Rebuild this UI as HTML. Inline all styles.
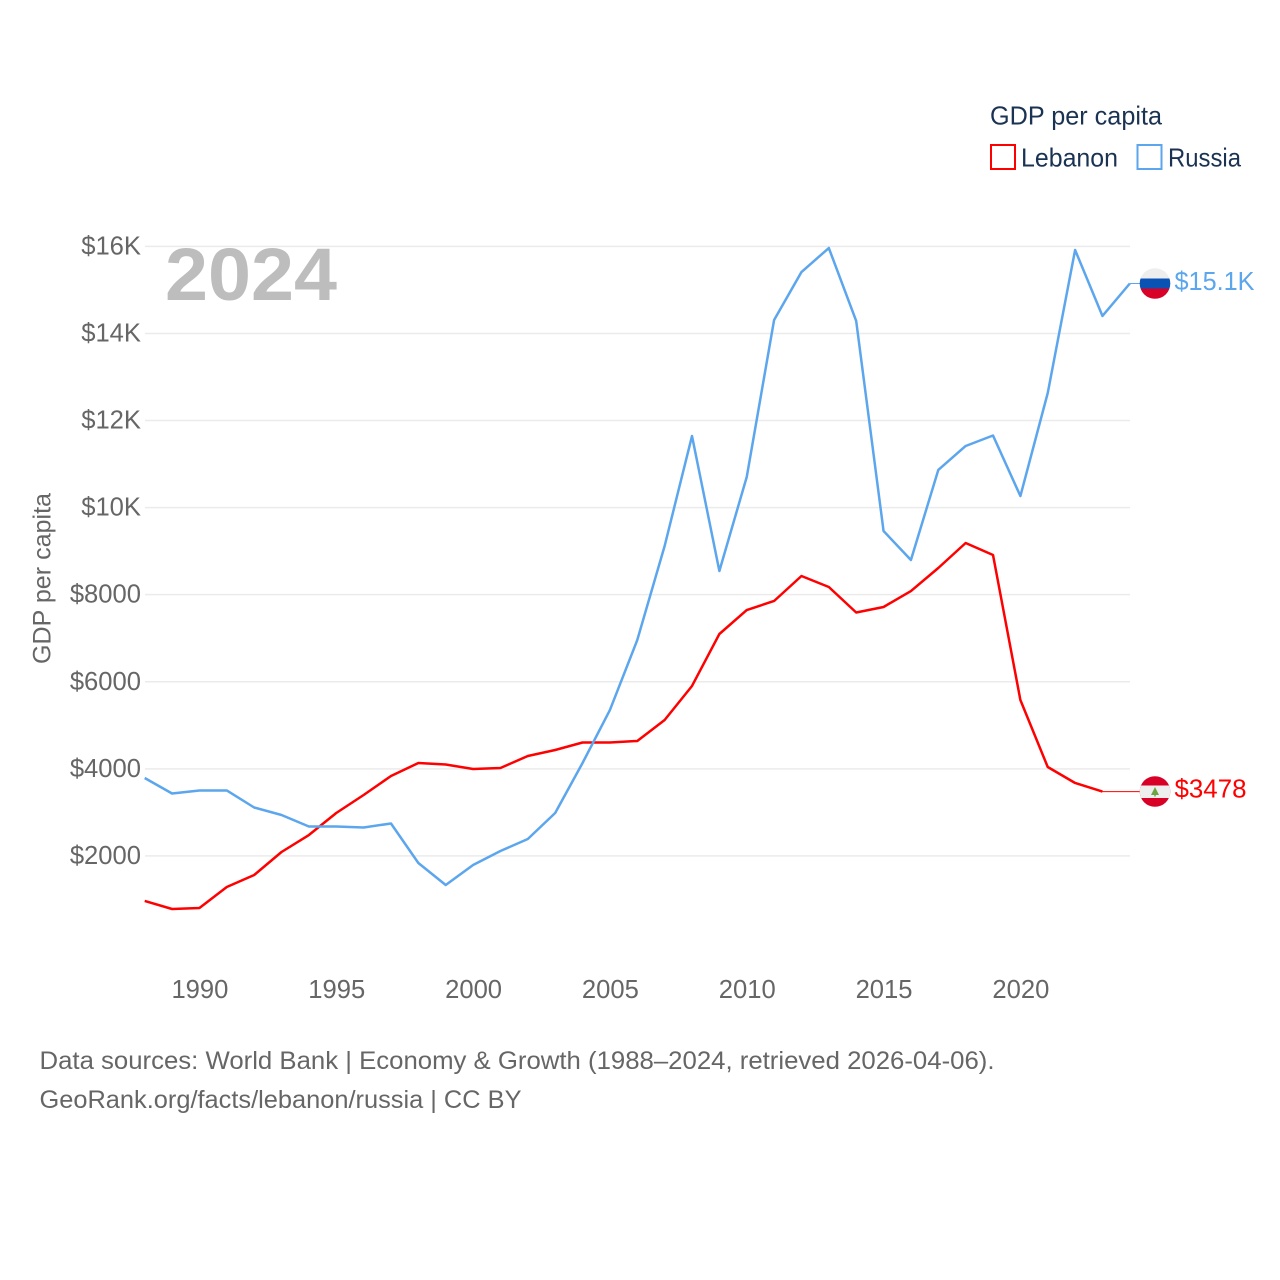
<!DOCTYPE html>
<html>
<head>
<meta charset="utf-8">
<title>GDP per capita: Lebanon and Russia</title>
<style>
html,body{margin:0;padding:0;background:#fff;}
svg{display:block;font-family:"Liberation Sans",sans-serif;}
</style>
</head>
<body>
<svg id="chart" width="1280" height="1280" viewBox="0 0 1280 1280" xmlns="http://www.w3.org/2000/svg">
  <rect width="1280" height="1280" fill="#ffffff"/>
  <g id="grid"></g>
  <g id="yticks"></g>
  <g id="xticks"></g>
  <text x="165" y="300" font-size="74" font-weight="bold" fill="#bdbdbd" textLength="172" lengthAdjust="spacingAndGlyphs">2024</text>
  <g id="series"></g>
  <text transform="translate(50.5,578.5) rotate(-90)" text-anchor="middle" font-size="25" fill="#666666" textLength="171" lengthAdjust="spacingAndGlyphs">GDP per capita</text>

  <g>
    <text x="990" y="124.5" font-size="25.6" fill="#1b3353" textLength="172" lengthAdjust="spacingAndGlyphs">GDP per capita</text>
    <rect x="991" y="145" width="24" height="24" fill="#fff" stroke="#ff0000" stroke-width="2"/>
    <text x="1021" y="166.5" font-size="25.6" fill="#1b3353" textLength="97" lengthAdjust="spacingAndGlyphs">Lebanon</text>
    <rect x="1137.5" y="145" width="24" height="24" fill="#fff" stroke="#5ca6ee" stroke-width="2"/>
    <text x="1168" y="166.5" font-size="25.6" fill="#1b3353" textLength="73" lengthAdjust="spacingAndGlyphs">Russia</text>
  </g>

  <defs>
    <clipPath id="clip-ru"><circle cx="1155" cy="283.5" r="15.3"/></clipPath>
    <clipPath id="clip-lb"><circle cx="1155" cy="791.5" r="15.3"/></clipPath>
  </defs>
  <g clip-path="url(#clip-ru)">
    <rect x="1139" y="268" width="32" height="10.5" fill="#eeeeee"/>
    <rect x="1139" y="278.5" width="32" height="10" fill="#0a52b4"/>
    <rect x="1139" y="288.5" width="32" height="11" fill="#d80027"/>
  </g>
  <g clip-path="url(#clip-lb)">
    <rect x="1139" y="776" width="32" height="32" fill="#d80027"/>
    <rect x="1139" y="785.5" width="32" height="12.5" fill="#eeeeee"/>
    <polygon points="1155,787 1159,795 1151,795" fill="#6da544"/>
    <rect x="1154.3" y="794" width="1.4" height="2.5" fill="#6da544"/>
  </g>
  <text x="1174.5" y="290" font-size="25.6" fill="#5ca6ee" textLength="80" lengthAdjust="spacingAndGlyphs">$15.1K</text>
  <text x="1174.5" y="797.5" font-size="25.6" fill="#ff0000" textLength="72" lengthAdjust="spacingAndGlyphs">$3478</text>

  <text x="39.5" y="1069" font-size="25" fill="#666666" textLength="955" lengthAdjust="spacingAndGlyphs">Data sources: World Bank | Economy &amp; Growth (1988–2024, retrieved 2026-04-06).</text>
  <text x="39.5" y="1108" font-size="25" fill="#666666" textLength="482" lengthAdjust="spacingAndGlyphs">GeoRank.org/facts/lebanon/russia | CC BY</text>
</svg>
<script>
var startYear = 1988;
var lebanonValues = [965,781,804,1286,1562,2090,2480,2986,3399,3836,4134,4100,3996,4019,4295,4433,4605,4605,4640,5122,5903,7097,7648,7855,8429,8176,7591,7717,8084,8613,9187,8911,5581,4042,3675,3478];
var russiaValues = [3790,3434,3503,3503,3112,2940,2676,2676,2653,2745,1837,1332,1791,2113,2389,2986,4134,5351,6959,9118,11644,8544,10703,14309,15411,15962,14286,9463,8796,10864,11415,11656,10266,12632,15917,14401,15147];
var yTickValues = [2000,4000,6000,8000,10000,12000,14000,16000];
var yTickLabels = ['$2000','$4000','$6000','$8000','$10K','$12K','$14K','$16K'];
var xTickYears = [1990,1995,2000,2005,2010,2015,2020];

var NS = 'http://www.w3.org/2000/svg';
function xScale(year){ return 144.7 + (year - 1988) * 27.365; }
function yScale(v){ return 943 - v * 0.04354; }
function make(tag, attrs, parent){
  var el = document.createElementNS(NS, tag);
  for (var k in attrs) el.setAttribute(k, attrs[k]);
  parent.appendChild(el);
  return el;
}
var grid = document.getElementById('grid');
var yticks = document.getElementById('yticks');
var xticks = document.getElementById('xticks');
var series = document.getElementById('series');

yTickValues.forEach(function(v, i){
  var y = yScale(v);
  var line = make('line', {x1:145, x2:1130, y1:y, y2:y, stroke:'#ebebeb', 'stroke-width':1.5}, grid);
  
  
  var t = make('text', {x:141, y:y + 8, 'text-anchor':'end', 'font-size':25.6, fill:'#666666'}, yticks);
  t.textContent = yTickLabels[i];
  
  
});
xTickYears.forEach(function(year){
  var t = make('text', {x:xScale(year) + 0.5, y:998, 'text-anchor':'middle', 'font-size':25.6, fill:'#666666'}, xticks);
  t.textContent = String(year);
  
  
});
function pointsFor(values){
  return values.map(function(v, i){
    return xScale(startYear + i).toFixed(2) + ',' + yScale(v).toFixed(2);
  }).join(' ');
}
var lebanonLine = make('polyline', {points:pointsFor(lebanonValues), fill:'none', stroke:'#ff0000', 'stroke-width':2.5, 'stroke-linejoin':'round'}, series);


var russiaLine = make('polyline', {points:pointsFor(russiaValues), fill:'none', stroke:'#5ca6ee', 'stroke-width':2.5, 'stroke-linejoin':'round'}, series);



var lebLast = lebanonValues.length - 1;
var lebConnector = make('line', {x1:xScale(startYear + lebLast), x2:1140, y1:yScale(lebanonValues[lebLast]), y2:yScale(lebanonValues[lebLast]), stroke:'#ff0000', 'stroke-width':1}, series);


var ruLast = russiaValues.length - 1;
var ruConnector = make('line', {x1:xScale(startYear + ruLast), x2:1140, y1:yScale(russiaValues[ruLast]), y2:yScale(russiaValues[ruLast]), stroke:'#5ca6ee', 'stroke-width':1}, series);


</script>
</body>
</html>
